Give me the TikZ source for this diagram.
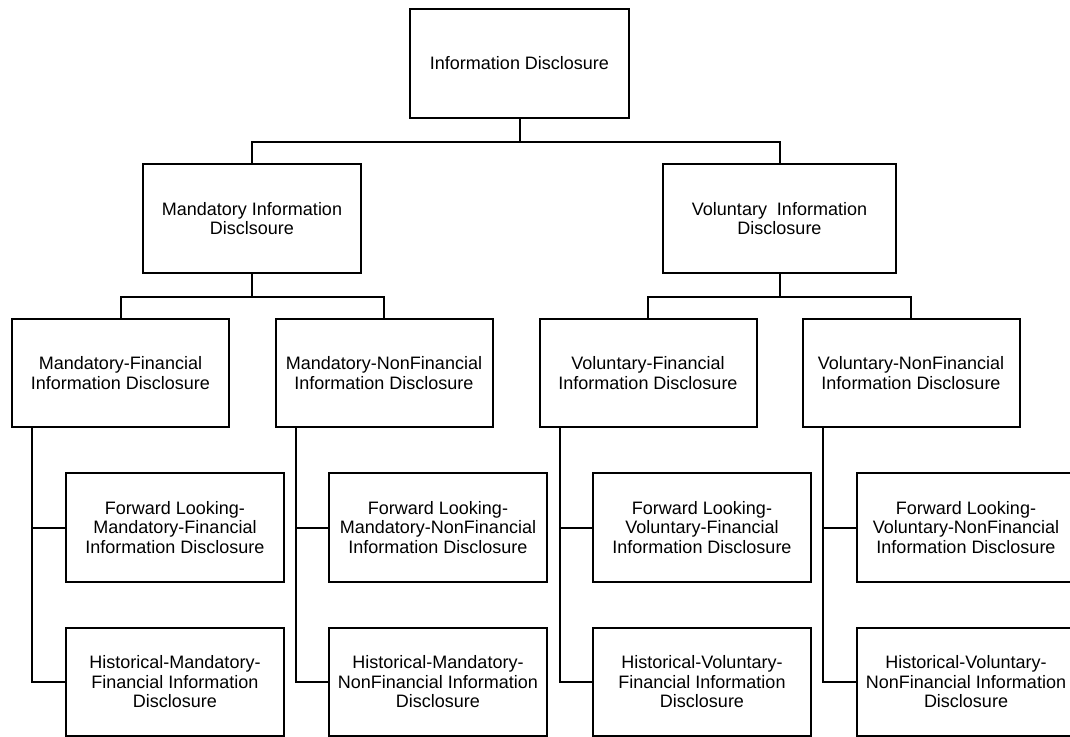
\documentclass[tikz,border=0pt]{standalone}
\usepackage{fontspec}
\setmainfont{Liberation Sans}
\usetikzlibrary{calc}

\tikzset{
  box/.style={draw, line width=2pt, align=center, inner sep=2pt,
    minimum width=218pt, minimum height=109pt,
    font=\fontsize{18}{19.5}\selectfont},
  link/.style={line width=2pt, line join=miter}
}

\begin{document}
\begin{tikzpicture}[x=1pt, y=-1pt]
  \useasboundingbox (0,0) rectangle (1070,736);

  % Root
  \node[box, minimum width=219pt] (root) at (519.5, 63.5) {Information Disclosure};

  % Second level
  \node[box] (mand) at (252, 218.5) {Mandatory Information\\Disclsoure};
  \node[box, minimum width=233pt] (vol) at (779.5, 218.5) {Voluntary\ \ Information\\Disclosure};

  % Third level
  \node[box, minimum width=217pt, minimum height=108pt] (mf) at (120.5, 373) {Mandatory-Financial\\Information Disclosure};
  \node[box, minimum width=217pt, minimum height=108pt] (mn) at (384, 373) {Mandatory-NonFinancial\\Information Disclosure};
  \node[box, minimum width=217pt, minimum height=108pt] (vf) at (648, 373) {Voluntary-Financial\\Information Disclosure};
  \node[box, minimum width=217pt, minimum height=108pt] (vn) at (911, 373) {Voluntary-NonFinancial\\Information Disclosure};

  % Fourth level: forward looking
  \node[box] (mfFwd) at (175, 527.5) {Forward Looking-\\Mandatory-Financial\\Information Disclosure};
  \node[box] (mnFwd) at (438, 527.5) {Forward Looking-\\Mandatory-NonFinancial\\Information Disclosure};
  \node[box] (vfFwd) at (702, 527.5) {Forward Looking-\\Voluntary-Financial\\Information Disclosure};
  \node[box] (vnFwd) at (966, 527.5) {Forward Looking-\\Voluntary-NonFinancial\\Information Disclosure};

  % Fourth level: historical
  \node[box, minimum height=108pt] (mfHist) at (175, 682) {Historical-Mandatory-\\Financial Information\\Disclosure};
  \node[box, minimum height=108pt] (mnHist) at (438, 682) {Historical-Mandatory-\\NonFinancial Information\\Disclosure};
  \node[box, minimum height=108pt] (vfHist) at (702, 682) {Historical-Voluntary-\\Financial Information\\Disclosure};
  \node[box, minimum height=108pt] (vnHist) at (966, 682) {Historical-Voluntary-\\NonFinancial Information\\Disclosure};

  % Tree connectors
  \draw[link] (root.south) -- ++(0,23) coordinate (rootJoin);
  \draw[link] (rootJoin) -| (mand.north);
  \draw[link] (rootJoin) -| (vol.north);

  \draw[link] (mand.south) -- ++(0,23) coordinate (mandJoin);
  \draw[link] (mandJoin) -| (mf.north);
  \draw[link] (mandJoin) -| (mn.north);

  \draw[link] (vol.south) -- ++(0,23) coordinate (volJoin);
  \draw[link] (volJoin) -| (vf.north);
  \draw[link] (volJoin) -| (vn.north);

  % Side connectors down to the leaves
  \foreach \n in {mf, mn, vf, vn} {
    \draw[link] ([xshift=21pt]\n.south west) |- (\n Fwd.west);
    \draw[link] ([xshift=21pt]\n.south west) |- (\n Hist.west);
  }
\end{tikzpicture}
\end{document}
